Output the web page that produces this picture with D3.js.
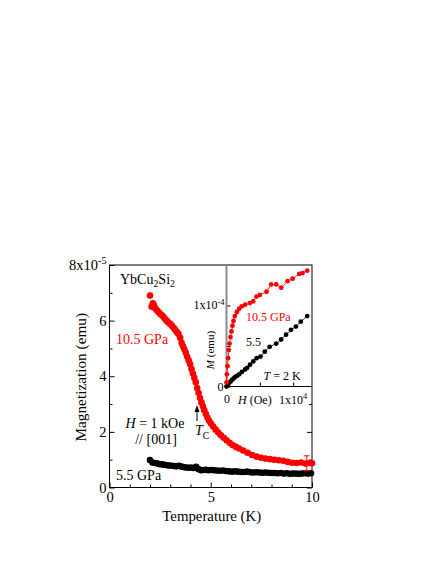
<!DOCTYPE html>
<html>
<head>
<meta charset="utf-8">
<script src="https://cdn.jsdelivr.net/npm/d3@7"></script>
<style>
  body { margin: 0; background: #fff; }
  text { font-family: "Liberation Serif", "Times New Roman", serif; }
</style>
</head>
<body>
<svg id="chart" width="436" height="564"></svg>
<script>
// main panel: M (1e-5 emu) vs T (K), H = 1 kOe // [001]
const red105 = [
  [2.00, 6.90], [2.08, 6.50], [2.14, 6.62], [2.20, 6.55], [2.27, 6.43], [2.35, 6.36],
  [2.43, 6.30], [2.51, 6.24], [2.59, 6.19], [2.67, 6.13], [2.75, 6.05], [2.83, 5.99],
  [2.91, 5.93], [3.00, 5.88], [3.08, 5.82], [3.17, 5.74], [3.25, 5.66], [3.33, 5.58],
  [3.41, 5.52], [3.49, 5.38], [3.56, 5.20], [3.63, 5.08], [3.70, 4.96], [3.77, 4.84],
  [3.84, 4.70], [3.91, 4.57], [3.98, 4.44], [4.05, 4.26], [4.12, 4.10], [4.19, 3.94],
  [4.26, 3.78], [4.33, 3.58], [4.40, 3.40], [4.47, 3.22], [4.54, 3.06], [4.61, 2.92],
  [4.68, 2.78], [4.76, 2.64], [4.84, 2.51], [4.92, 2.40], [5.01, 2.30], [5.12, 2.19],
  [5.24, 2.08], [5.37, 1.98], [5.50, 1.88], [5.64, 1.79], [5.78, 1.70], [5.93, 1.61],
  [6.08, 1.53], [6.24, 1.46], [6.40, 1.40], [6.60, 1.33], [6.82, 1.25], [7.04, 1.17],
  [7.26, 1.11], [7.48, 1.07], [7.70, 1.04], [7.92, 1.02], [8.14, 1.00], [8.36, 0.98],
  [8.58, 0.96], [8.80, 0.92], [9.02, 0.89], [9.24, 0.88], [9.46, 0.90], [9.68, 0.86],
  [9.88, 0.88], [10.0, 0.87]
]
const black55 = [
  [2.00, 0.99], [2.12, 0.90], [2.24, 0.88], [2.36, 0.86], [2.48, 0.84], [2.60, 0.83],
  [2.72, 0.82], [2.84, 0.80], [2.96, 0.79], [3.08, 0.78], [3.20, 0.77], [3.32, 0.76],
  [3.44, 0.78], [3.56, 0.75], [3.68, 0.73], [3.80, 0.72], [3.92, 0.71], [4.04, 0.72],
  [4.16, 0.70], [4.28, 0.74], [4.40, 0.66], [4.52, 0.62], [4.64, 0.63], [4.76, 0.64],
  [4.88, 0.62], [5.00, 0.63], [5.15, 0.62], [5.30, 0.61], [5.45, 0.60], [5.60, 0.61],
  [5.75, 0.59], [5.90, 0.58], [6.05, 0.57], [6.20, 0.58], [6.35, 0.57], [6.50, 0.56],
  [6.65, 0.56], [6.80, 0.57], [6.95, 0.55], [7.10, 0.54], [7.25, 0.55], [7.40, 0.54],
  [7.55, 0.53], [7.70, 0.54], [7.85, 0.53], [8.00, 0.52], [8.15, 0.52], [8.30, 0.51],
  [8.45, 0.52], [8.60, 0.50], [8.75, 0.51], [8.90, 0.49], [9.05, 0.50], [9.20, 0.50],
  [9.35, 0.49], [9.50, 0.50], [9.65, 0.51], [9.80, 0.50], [9.95, 0.51]
]
// [T, M, half height of the bar]
const errorBars = [[9.74, 0.87, 0.27]]
// Tc arrow: [T, from M, to M]
const tcArrow = [4.32, 2.39, 2.97]

// inset: M (1e-4 emu) vs H (Oe) at T = 2 K
const insetRed = [
  [0, 0.05], [60, 0.15], [150, 0.25], [250, 0.35], [350, 0.45], [450, 0.53], [600, 0.61],
  [750, 0.68], [900, 0.75], [1050, 0.81], [1250, 0.87], [1550, 0.92], [1900, 0.96],
  [2300, 0.99], [2800, 1.01], [3500, 1.03], [4000, 1.05], [4500, 1.11], [5000, 1.13],
  [6000, 1.17], [6700, 1.26], [7450, 1.26], [8200, 1.22], [9150, 1.30], [9900, 1.33],
  [10900, 1.39], [11400, 1.40], [12100, 1.43]
]
const insetBlack = [
  [0, 0.0], [300, 0.03], [590, 0.06], [800, 0.08], [1070, 0.10], [1300, 0.12],
  [1570, 0.13], [1900, 0.15], [2300, 0.18], [2790, 0.21], [3100, 0.23], [3530, 0.27],
  [4015, 0.31], [4510, 0.35], [5100, 0.37], [5735, 0.43], [6470, 0.49], [7450, 0.53],
  [8190, 0.58], [8925, 0.64], [9660, 0.70], [10400, 0.74], [11130, 0.80], [12100, 0.87]
]

const xMajor = [0, 5, 10]
const xMinor = [1, 2, 3, 4, 6, 7, 8, 9]
const yMajor = [0, 2, 4, 6, 8]
const yMinor = [1, 3, 5, 7]
const insetXTicks = [0, 5000, 10000]
const insetYTicks = [0, 0.5, 1.0]

const RED = '#ff0000'
const svg = d3.select('#chart')

const x = d3.scaleLinear().domain([0, 10]).range([109.5, 312])
const y = d3.scaleLinear().domain([0, 8]).range([487.5, 265])
const xi = d3.scaleLinear().domain([0, 12815]).range([226.5, 312])
const yi = d3.scaleLinear().domain([0, 1.5]).range([386.5, 265])

function richText(sel, parts, size) {
  // parts: [text, 'sup' | 'sub' | null, italic]
  let shift = 0
  parts.forEach(([t, mode, ital]) => {
    const target = mode === 'sup' ? -0.4 * size : mode === 'sub' ? 0.28 * size : 0
    const ts = sel.append('tspan').attr('dy', target - shift).text(t)
    if (mode) ts.attr('font-size', size * 0.7)
    if (ital) ts.attr('font-style', 'italic')
    shift = target
  })
  return sel
}

// ---- main axes ----
const gx = svg.append('g').attr('transform', `translate(0,${y(0)})`)
gx.call(d3.axisBottom(x).tickValues(xMajor).tickSize(-5).tickSizeOuter(0).tickPadding(4))
gx.append('g').call(d3.axisBottom(x).tickValues(xMinor).tickSize(-3).tickFormat(''))

const gy = svg.append('g').attr('transform', `translate(${x(0)},0)`)
gy.call(d3.axisLeft(y).tickValues(yMajor).tickSize(-5).tickSizeOuter(0).tickPadding(3)
  .tickFormat(d => d === 8 ? '' : d))
gy.append('g').call(d3.axisLeft(y).tickValues(yMinor).tickSize(-3).tickFormat(''))

// right axis ticks (visible below the inset only)
const gr = svg.append('g').attr('transform', `translate(${x(10)},0)`)
gr.call(d3.axisRight(y).tickValues([0, 2]).tickSize(-5).tickFormat(''))
gr.append('g').call(d3.axisRight(y).tickValues([1, 3]).tickSize(-3).tickFormat(''))

svg.selectAll('.domain').remove()
svg.selectAll('.tick line').attr('stroke', '#000').attr('stroke-width', 1)
svg.selectAll('.tick text').attr('font-size', 14.5).attr('fill', '#000')
  .style('font-family', '"Liberation Serif", "Times New Roman", serif')

// frame
svg.append('rect')
  .attr('x', x(0)).attr('y', y(8))
  .attr('width', x(10) - x(0)).attr('height', y(0) - y(8))
  .attr('fill', 'none').attr('stroke', '#000').attr('stroke-width', 1)

// 8x10^-5 label at the top of the y axis
richText(svg.append('text')
  .attr('x', x(0) - 3).attr('y', y(8) + 4.5)
  .attr('text-anchor', 'end').attr('font-size', 14.5),
  [['8x10', null], ['-5', 'sup']], 14.5)

// axis titles
svg.append('text')
  .attr('x', (x(0) + x(10)) / 2 + 1).attr('y', 520.5)
  .attr('text-anchor', 'middle').attr('font-size', 14.8)
  .text('Temperature (K)')
svg.append('text')
  .attr('transform', `translate(86,${y(4) + 1}) rotate(-90)`)
  .attr('text-anchor', 'middle').attr('font-size', 15.3)
  .text('Magnetization (emu)')

// ---- main data ----
svg.append('g').selectAll('circle')
  .data(black55).join('circle')
  .attr('cx', d => x(d[0])).attr('cy', d => y(d[1]))
  .attr('r', 3.3).attr('fill', '#000')

svg.append('g').selectAll('circle')
  .data(red105).join('circle')
  .attr('cx', d => x(d[0])).attr('cy', d => y(d[1]))
  .attr('r', 3.3).attr('fill', RED)

const eb = svg.append('g').attr('stroke', RED).attr('stroke-width', 1)
errorBars.forEach(([t, m, h]) => {
  eb.append('line').attr('x1', x(t)).attr('x2', x(t)).attr('y1', y(m - h)).attr('y2', y(m + h))
  eb.append('line').attr('x1', x(t) - 3).attr('x2', x(t) + 3).attr('y1', y(m - h)).attr('y2', y(m - h))
  eb.append('line').attr('x1', x(t) - 3).attr('x2', x(t) + 3).attr('y1', y(m + h)).attr('y2', y(m + h))
})

// Tc arrow
const [tcT, tcFrom, tcTo] = tcArrow
svg.append('line')
  .attr('x1', x(tcT)).attr('x2', x(tcT))
  .attr('y1', y(tcFrom)).attr('y2', y(tcTo) + 5)
  .attr('stroke', '#000').attr('stroke-width', 1)
svg.append('path')
  .attr('d', `M${x(tcT)},${y(tcTo)} l-2.5,7 l5,0 z`)
  .attr('fill', '#000')

// annotations
richText(svg.append('text').attr('x', 120).attr('y', 283.5).attr('font-size', 14),
  [['YbCu', null], ['2', 'sub'], ['Si', null], ['2', 'sub']], 14)
svg.append('text').attr('x', 116).attr('y', 344).attr('font-size', 14)
  .attr('fill', RED).text('10.5 GPa')
richText(svg.append('text').attr('x', 155).attr('y', 428).attr('font-size', 14)
  .attr('text-anchor', 'middle'),
  [['H', null, true], [' = 1 kOe', null]], 14)
svg.append('text').attr('x', 156).attr('y', 444).attr('font-size', 14)
  .attr('text-anchor', 'middle').text('// [001]')
richText(svg.append('text').attr('x', 195).attr('y', 435).attr('font-size', 14),
  [['T', null, true], ['C', 'sub']], 14)
svg.append('text').attr('x', 116).attr('y', 480).attr('font-size', 14).text('5.5 GPa')

// ---- inset ----
const ig = svg.append('g')
const igx = ig.append('g').attr('transform', `translate(0,${yi(0)})`)
igx.call(d3.axisBottom(xi).tickValues(insetXTicks).tickSize(-4).tickSizeOuter(0).tickPadding(8)
  .tickFormat(d => d === 0 ? '0' : ''))
const igy = ig.append('g').attr('transform', `translate(${xi(0)},0)`)
igy.call(d3.axisLeft(yi).tickValues(insetYTicks).tickSize(-4).tickSizeOuter(0).tickPadding(3)
  .tickFormat(d => d === 0 ? '0' : ''))
ig.selectAll('.domain').remove()
ig.selectAll('.tick line').attr('stroke', '#000')
ig.selectAll('.tick text').attr('font-size', 12).attr('fill', '#000')
  .style('font-family', '"Liberation Serif", "Times New Roman", serif')

ig.append('line')
  .attr('x1', xi(0)).attr('x2', x(10)).attr('y1', yi(0)).attr('y2', yi(0))
  .attr('stroke', '#000').attr('stroke-width', 1)
ig.append('line')
  .attr('x1', xi(0)).attr('x2', xi(0)).attr('y1', yi(0)).attr('y2', y(8))
  .attr('stroke', '#8c8c8c').attr('stroke-width', 2)

richText(ig.append('text').attr('x', xi(10000)).attr('y', yi(0) + 17)
  .attr('text-anchor', 'middle').attr('font-size', 12),
  [['1x10', null], ['4', 'sup']], 12)
richText(ig.append('text').attr('x', 238).attr('y', yi(0) + 17).attr('font-size', 12),
  [['H', null, true], [' (Oe)', null]], 12)
richText(ig.append('text').attr('x', xi(0) - 2).attr('y', yi(1.0) + 3.8)
  .attr('text-anchor', 'end').attr('font-size', 12),
  [['1x10', null], ['-4', 'sup']], 12)
richText(ig.append('text')
  .attr('transform', `translate(214,${yi(0.45)}) rotate(-90)`)
  .attr('text-anchor', 'middle').attr('font-size', 11),
  [['M', null, true], [' (emu)', null]], 11)

const line = d3.line().x(d => xi(d[0])).y(d => yi(d[1]))
ig.append('path').datum(insetBlack).attr('d', line)
  .attr('fill', 'none').attr('stroke', '#000').attr('stroke-width', 0.8)
ig.append('g').selectAll('circle').data(insetBlack).join('circle')
  .attr('cx', d => xi(d[0])).attr('cy', d => yi(d[1])).attr('r', 2.4).attr('fill', '#000')
ig.append('path').datum(insetRed).attr('d', line)
  .attr('fill', 'none').attr('stroke', RED).attr('stroke-width', 0.8)
ig.append('g').selectAll('circle').data(insetRed).join('circle')
  .attr('cx', d => xi(d[0])).attr('cy', d => yi(d[1])).attr('r', 2.4).attr('fill', RED)

ig.append('text').attr('x', 246).attr('y', 320.7).attr('font-size', 12)
  .attr('fill', RED).text('10.5 GPa')
ig.append('text').attr('x', 246).attr('y', 346).attr('font-size', 12).text('5.5')
richText(ig.append('text').attr('x', 263.5).attr('y', 380).attr('font-size', 12),
  [['T', null, true], [' = 2 K', null]], 12)
</script>
</body>
</html>
